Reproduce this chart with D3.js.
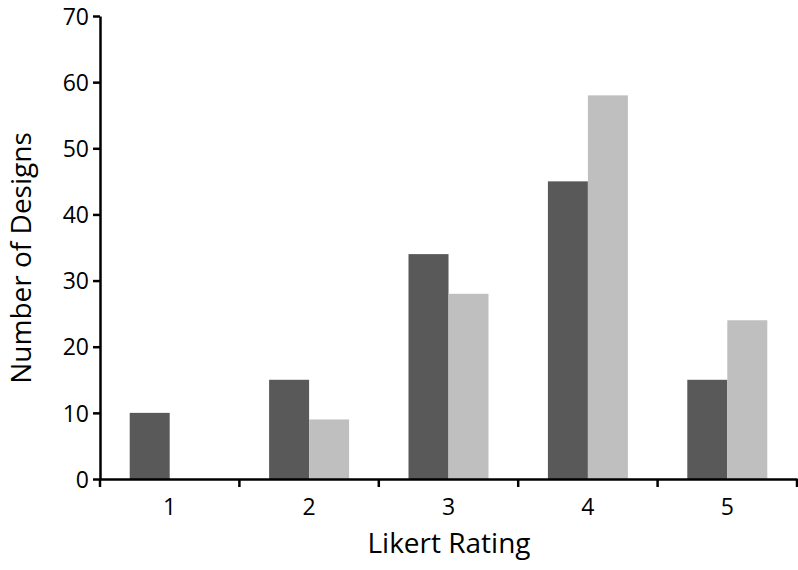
<!DOCTYPE html>
<html>
<head>
<meta charset="utf-8">
<script src="https://cdn.jsdelivr.net/npm/d3@7"></script>
<style>
body { margin: 0; background: #fff; }
text { font-family: "Open Sans", "DejaVu Sans", sans-serif; fill: #000; }
</style>
</head>
<body>
<svg id="chart" width="798" height="570"></svg>
<script>
// data
var ratings = ["1", "2", "3", "4", "5"];
var seriesNames = ["darkSeries", "lightSeries"];
var darkValues = [10, 15, 34, 45, 15];
var lightValues = [0, 9, 28, 58, 24];
var yTicks = [0, 10, 20, 30, 40, 50, 60, 70];

var svg = d3.select("#chart");
var plotLeft = 100, plotRight = 797, plotTop = 16, plotBottom = 479;

var x = d3.scaleBand().domain(ratings).range([plotLeft, plotRight]);
var x1 = d3.scaleBand().domain(seriesNames).range([x.bandwidth() / 2 - 40, x.bandwidth() / 2 + 40]);
var y = d3.scaleLinear().domain([0, 70]).range([plotBottom, plotTop]);

var colors = { darkSeries: "#595959", lightSeries: "#bfbfbf" };

var rows = ratings.map(function(r, i) {
    return { rating: r, darkSeries: darkValues[i], lightSeries: lightValues[i] };
});

var groups = svg.selectAll("g.group").data(rows).enter().append("g")
    .attr("class", "group")
    .attr("transform", function(d) { return "translate(" + x(d.rating) + ",0)"; });

groups.selectAll("rect")
    .data(function(d) { return seriesNames.map(function(s) { return { key: s, value: d[s] }; }); })
    .enter().append("rect")
    .attr("x", function(d) { return x1(d.key); })
    .attr("width", x1.bandwidth())
    .attr("y", function(d) { return y(d.value); })
    .attr("height", function(d) { return y(0) - y(d.value); })
    .attr("fill", function(d) { return colors[d.key]; });

// y axis
var yAxis = svg.append("g").attr("transform", "translate(" + plotLeft + ",0)")
    .call(d3.axisLeft(y).tickValues(yTicks).tickSize(7).tickPadding(4).tickSizeOuter(0));
yAxis.select(".domain").attr("stroke", "#000").attr("stroke-width", 2.5);
yAxis.selectAll(".tick line").attr("stroke-width", 2.5);
yAxis.selectAll(".tick text").style("font-size", "23px").attr("dy", "0.36em");

// x axis: ticks between categories
var xAxis = svg.append("g").attr("transform", "translate(0," + plotBottom + ")")
    .call(d3.axisBottom(x).tickSize(0).tickPadding(20));
xAxis.select(".domain").attr("stroke", "#000").attr("stroke-width", 2.5);
xAxis.selectAll(".tick text").style("font-size", "23px");

var edges = ratings.map(function(r) { return x(r); }).concat([x(ratings[4]) + x.bandwidth()]);
xAxis.selectAll("line.sep").data(edges).enter().append("line")
    .attr("class", "sep")
    .attr("x1", function(d) { return d; }).attr("x2", function(d) { return d; })
    .attr("y1", 0).attr("y2", 8)
    .attr("stroke", "#000").attr("stroke-width", 2.5);

// titles
svg.append("text")
    .attr("x", 449).attr("y", 553)
    .attr("text-anchor", "middle")
    .style("font-size", "28px")
    .text("Likert Rating");

svg.append("text")
    .attr("transform", "translate(31,258) rotate(-90)")
    .attr("text-anchor", "middle")
    .style("font-size", "28px")
    .text("Number of Designs");
</script>
</body>
</html>
